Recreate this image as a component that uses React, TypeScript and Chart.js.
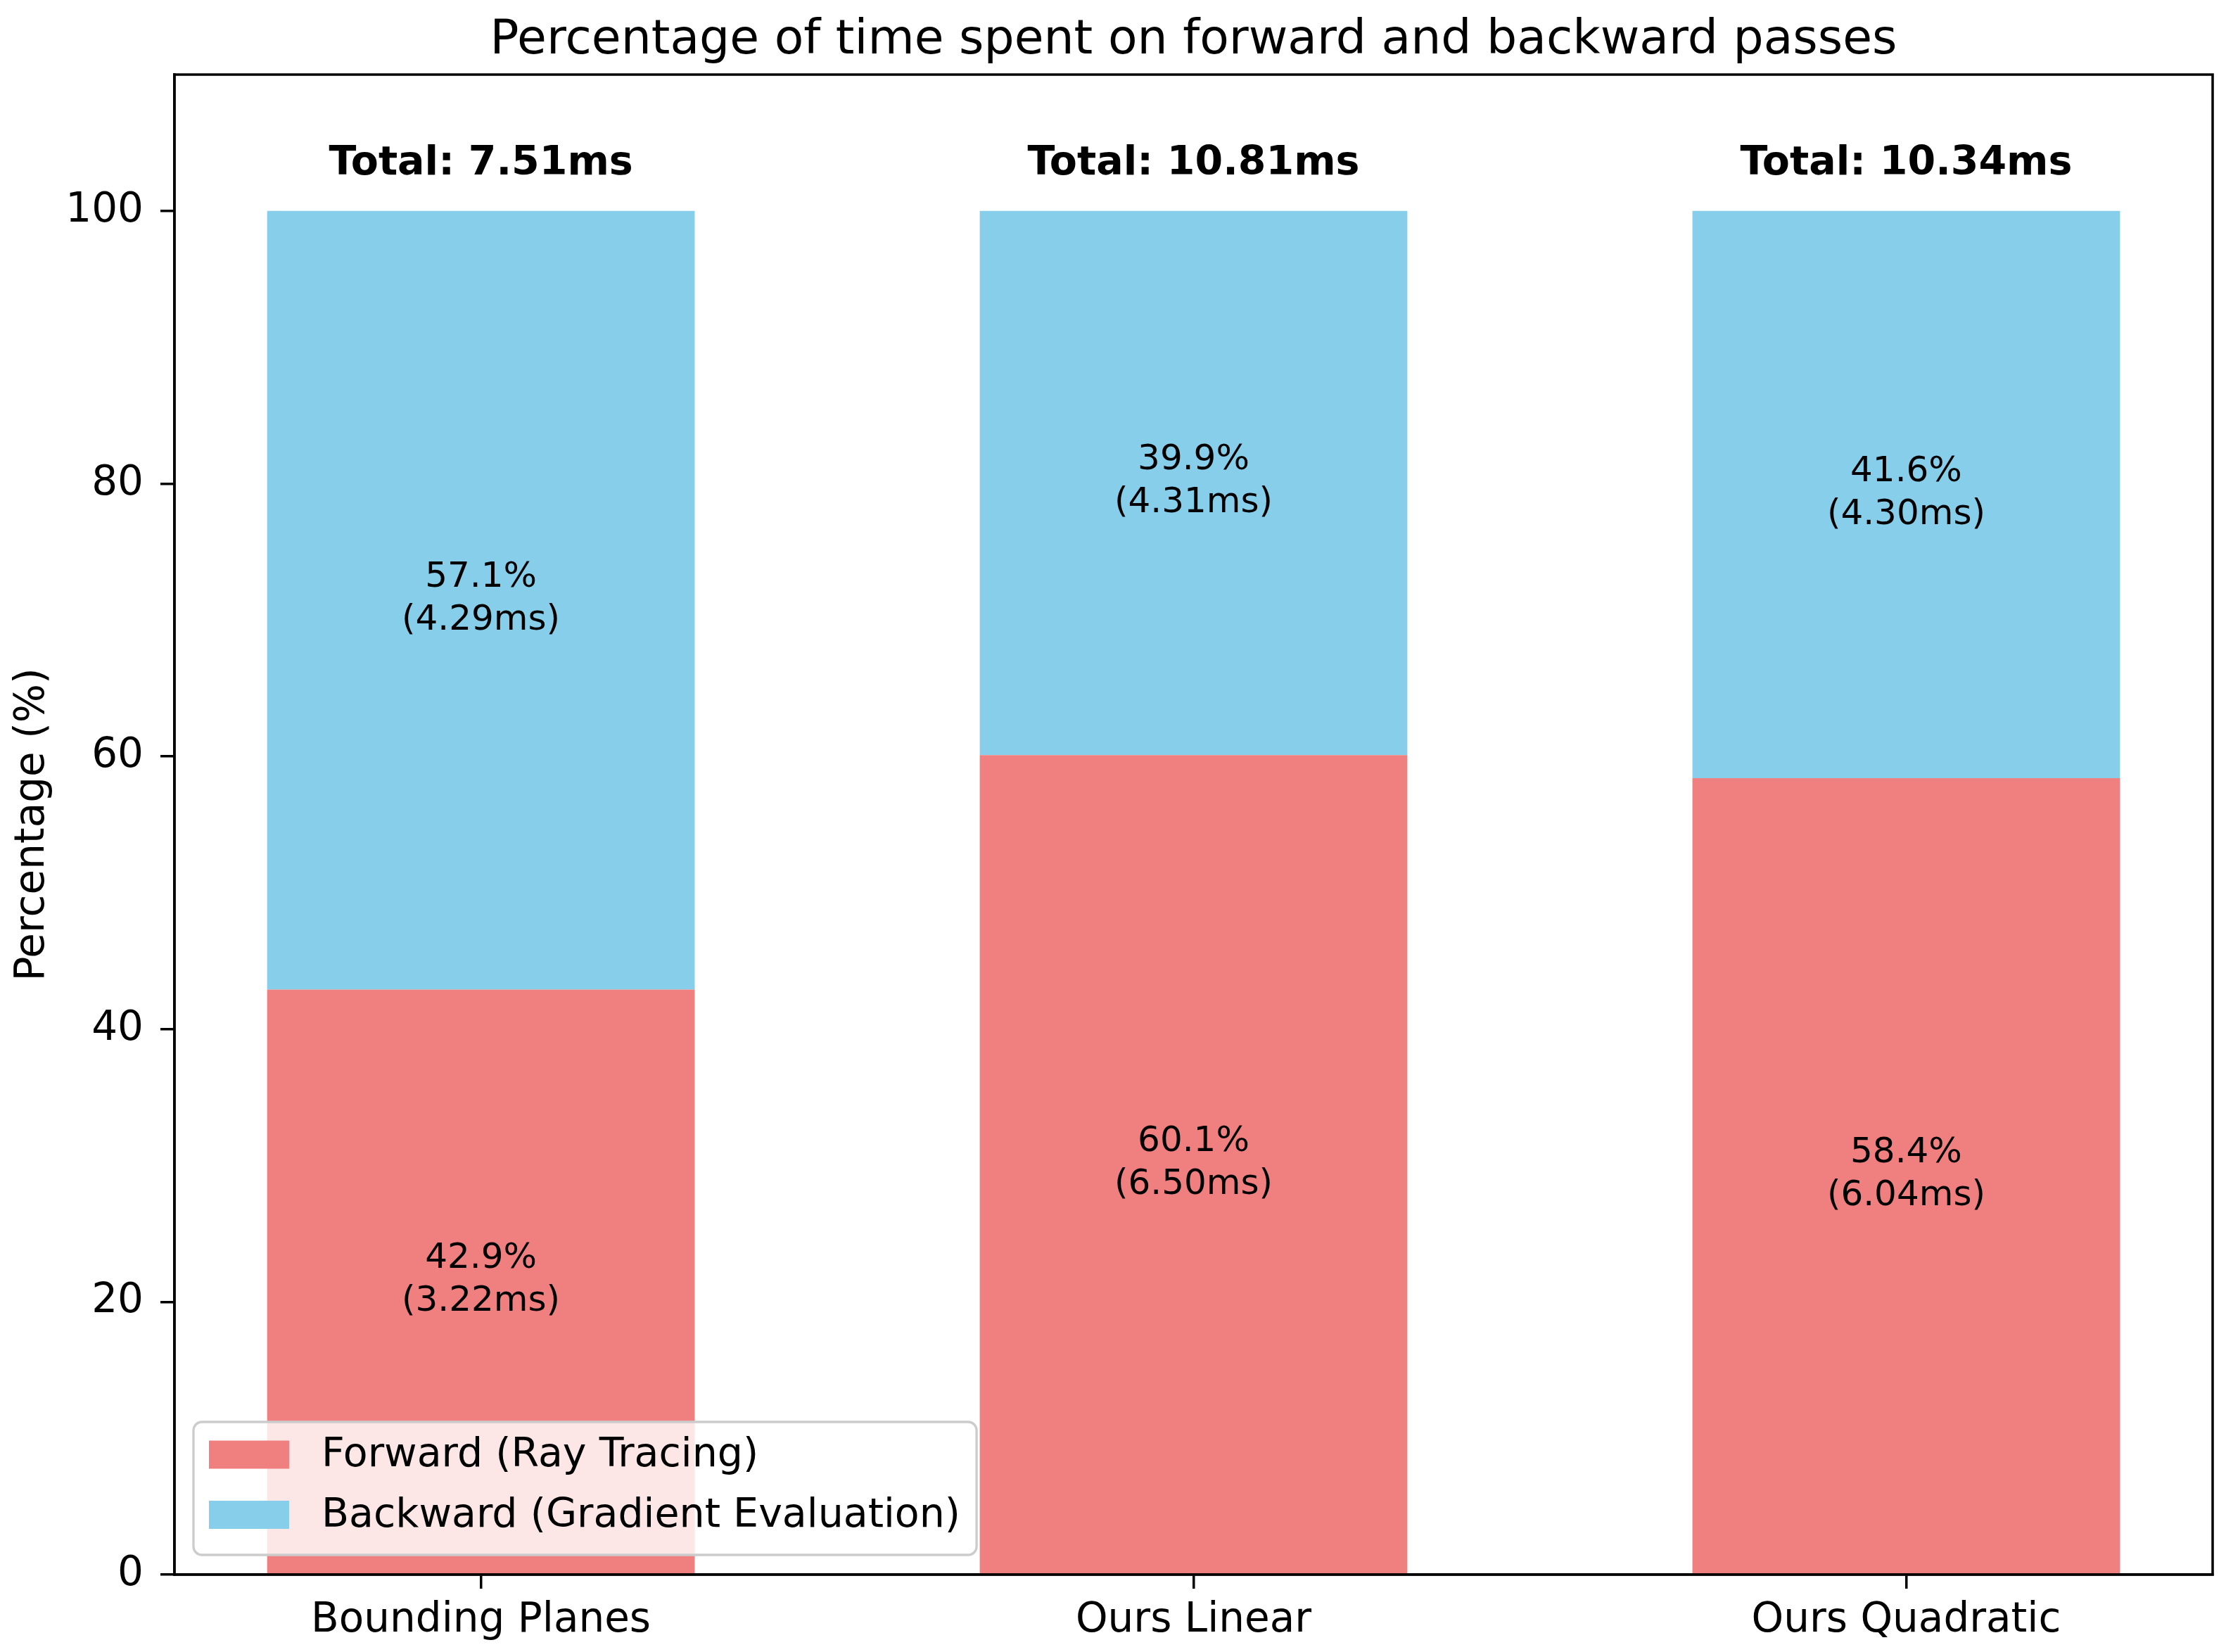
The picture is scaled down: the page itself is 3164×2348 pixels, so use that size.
import { useEffect, useRef } from "react"
import { Chart, registerables } from "chart.js"

Chart.register(...registerables)

const categories = ["Bounding Planes", "Ours Linear", "Ours Quadratic"]
const forwardPct = [42.9, 60.1, 58.4]
const backwardPct = [57.1, 39.9, 41.6]
const forwardMs = [3.22, 6.5, 6.04]
const backwardMs = [4.29, 4.31, 4.3]
const totalMs = [7.51, 10.81, 10.34]
const yTicks = [0, 20, 40, 60, 80, 100]
const seriesNames = ["Forward (Ray Tracing)", "Backward (Gradient Evaluation)"]
const seriesColors = ["#F08080", "#87CEEB"]
const titleText = "Percentage of time spent on forward and backward passes"

const FONT = "'DejaVu Sans', sans-serif"
const LINE = 3.5

// frame, value labels, totals, title and the legend drawn on top
const overlayPlugin = {
  id: "overlay",
  afterDatasetsDraw(chart: any) {
    const { ctx, chartArea: ca } = chart
    ctx.save()
    ctx.strokeStyle = "#000"
    ctx.lineWidth = LINE
    ctx.strokeRect(ca.left, ca.top, ca.right - ca.left, ca.bottom - ca.top)

    ctx.fillStyle = "#000"
    ctx.textAlign = "center"
    ctx.textBaseline = "alphabetic"
    ctx.font = `50px ${FONT}`
    const pcts = [forwardPct, backwardPct]
    const times = [forwardMs, backwardMs]
    pcts.forEach((vals, d) => {
      const meta = chart.getDatasetMeta(d)
      meta.data.forEach((bar: any, i: number) => {
        const mid = (bar.y + bar.base) / 2
        ctx.fillText(`${vals[i].toFixed(1)}%`, bar.x, mid - 19)
        ctx.fillText(`(${times[d][i].toFixed(2)}ms)`, bar.x, mid + 42)
      })
    })

    ctx.font = `bold 57px ${FONT}`
    const yTop = chart.scales.y.getPixelForValue(102) - 0.236 * 57
    chart.getDatasetMeta(1).data.forEach((bar: any, i: number) => {
      ctx.fillText(`Total: ${totalMs[i].toFixed(2)}ms`, bar.x, yTop)
    })
    ctx.restore()
  },
  afterDraw(chart: any) {
    const { ctx, chartArea: ca } = chart
    ctx.save()
    ctx.fillStyle = "#000"
    ctx.textAlign = "center"
    ctx.textBaseline = "alphabetic"
    ctx.font = `68px ${FONT}`
    ctx.fillText(titleText, (ca.left + ca.right) / 2, 76)

    // legend, lower left inside the axes
    ctx.font = `57px ${FONT}`
    const textW = Math.max(...seriesNames.map((s) => ctx.measureText(s).width))
    const bx = ca.left + 27
    const bh = 189
    const by = ca.bottom - 28 - bh
    const bw = 182 + textW + 23
    ctx.beginPath()
    ctx.roundRect(bx, by, bw, bh, 12)
    ctx.fillStyle = "rgba(255,255,255,0.8)"
    ctx.fill()
    ctx.strokeStyle = "#CCCCCC"
    ctx.lineWidth = 3.3
    ctx.stroke()
    ctx.textAlign = "left"
    ctx.textBaseline = "middle"
    seriesNames.forEach((name, i) => {
      const cy = by + 46.5 + i * 85.5
      ctx.fillStyle = seriesColors[i]
      ctx.fillRect(bx + 22, cy - 20, 114, 40)
      ctx.fillStyle = "#000"
      ctx.fillText(name, bx + 182, cy + 2)
    })
    ctx.restore()
  },
}

export default function App() {
  const chartRef = useRef<HTMLCanvasElement>(null)
  const chartInstance = useRef<Chart | null>(null)

  useEffect(() => {
    document.body.style.margin = "0"
    if (!chartRef.current) return
    const ctx = chartRef.current.getContext("2d")
    if (!ctx) return
    if (chartInstance.current) chartInstance.current.destroy()

    Chart.defaults.font.family = FONT
    Chart.defaults.color = "#000"

    const axisGrid = {
      drawOnChartArea: false,
      drawTicks: true,
      offset: false,
      tickLength: 20,
      color: "#000",
      lineWidth: LINE,
    }
    const axisBorder = { display: true, color: "#000", width: LINE }

    chartInstance.current = new Chart(ctx, {
      type: "bar",
      data: {
        datasets: [
          {
            label: seriesNames[0],
            data: forwardPct.map((v, i) => ({ x: i, y: v })),
            backgroundColor: seriesColors[0],
            borderWidth: 0,
            barPercentage: 1,
            categoryPercentage: 0.6,
          },
          {
            label: seriesNames[1],
            data: backwardPct.map((v, i) => ({ x: i, y: v })),
            backgroundColor: seriesColors[1],
            borderWidth: 0,
            barPercentage: 1,
            categoryPercentage: 0.6,
          },
        ],
      },
      options: {
        animation: false,
        responsive: false,
        devicePixelRatio: 1,
        layout: { padding: { left: 0, right: 19, top: 106, bottom: 0 } },
        plugins: {
          legend: { display: false },
          title: { display: false },
          tooltip: { enabled: false },
        },
        scales: {
          x: {
            type: "linear",
            min: -0.43,
            max: 2.43,
            stacked: true,
            offset: false,
            afterBuildTicks: (s: any) => {
              s.ticks = categories.map((_, i) => ({ value: i }))
            },
            afterFit: (s: any) => {
              s.height = 110
            },
            ticks: {
              callback: (v: any) => categories[v] ?? "",
              font: { size: 58 },
              color: "#000",
              padding: 11,
              maxRotation: 0,
              autoSkip: false,
            },
            grid: axisGrid,
            border: axisBorder,
          },
          y: {
            min: 0,
            max: 110,
            stacked: true,
            afterBuildTicks: (s: any) => {
              s.ticks = yTicks.map((v) => ({ value: v }))
            },
            afterFit: (s: any) => {
              s.width = 248
            },
            ticks: { font: { size: 58 }, color: "#000", padding: 24 },
            grid: axisGrid,
            border: axisBorder,
            title: {
              display: true,
              text: "Percentage (%)",
              font: { size: 58 },
              color: "#000",
              padding: { top: 12, bottom: 0 },
            },
          },
        },
      } as any,
      plugins: [overlayPlugin],
    })

    return () => {
      if (chartInstance.current) {
        chartInstance.current.destroy()
        chartInstance.current = null
      }
    }
  }, [])

  return (
    <div style={{ width: 3164, height: 2348, background: "#fff" }}>
      <canvas
        ref={chartRef}
        width={3164}
        height={2348}
        style={{ display: "block", width: 3164, height: 2348 }}
        aria-label="Percentage of time spent on forward and backward passes"
        role="img"
      ></canvas>
    </div>
  )
}
